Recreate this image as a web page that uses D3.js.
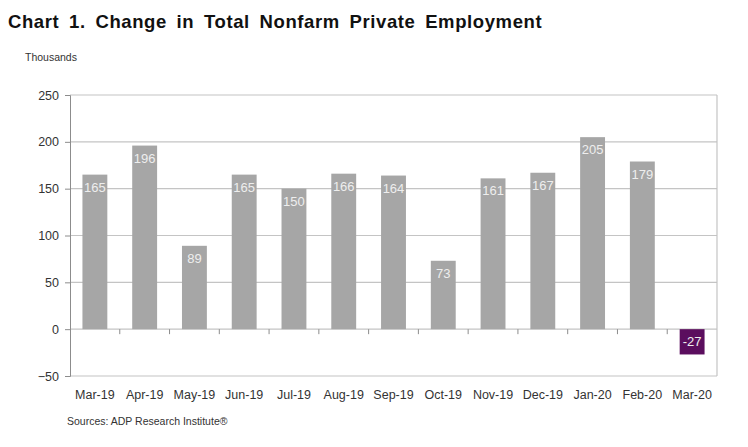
<!DOCTYPE html>
<html>
<head>
<meta charset="utf-8">
<script src="https://cdn.jsdelivr.net/npm/d3@7"></script>
<style>
  body { margin: 0; background: #fff; }
  svg text { font-family: "Liberation Sans", Arial, sans-serif; }
</style>
</head>
<body>
<div id="chart"></div>
<script>
const months = ["Mar-19", "Apr-19", "May-19", "Jun-19", "Jul-19", "Aug-19", "Sep-19",
  "Oct-19", "Nov-19", "Dec-19", "Jan-20", "Feb-20", "Mar-20"];
const changes = [165, 196, 89, 165, 150, 166, 164, 73, 161, 167, 205, 179, -27];
const yTicks = [-50, 0, 50, 100, 150, 200, 250];

const W = 748, H = 447;
const margin = { left: 70, right: 31, top: 95, bottom: 71 };
const width = W - margin.left - margin.right;
const height = H - margin.top - margin.bottom;

const svg = d3.select("#chart").append("svg")
    .attr("width", W)
    .attr("height", H);

svg.append("text")
    .attr("x", 8).attr("y", 28)
    .attr("font-size", 18.5).attr("font-weight", "bold")
    .attr("letter-spacing", 0.6).attr("word-spacing", 4)
    .attr("fill", "#111")
    .text("Chart 1. Change in Total Nonfarm Private Employment");

svg.append("text")
    .attr("x", 25).attr("y", 61)
    .attr("font-size", 10.5).attr("fill", "#333")
    .text("Thousands");

svg.append("text")
    .attr("x", 67).attr("y", 425)
    .attr("font-size", 10.5).attr("fill", "#333")
    .text("Sources: ADP Research Institute®");

const g = svg.append("g").attr("transform", `translate(${margin.left}, ${margin.top})`);

const x = d3.scaleBand().domain(months).range([0, width]).paddingInner(0.5).paddingOuter(0.25);
const y = d3.scaleLinear().domain([-50, 250]).range([height, 0]);

// gridlines
g.append("g").selectAll("line")
  .data(yTicks)
  .join("line")
    .attr("x1", 0).attr("x2", width)
    .attr("y1", d => y(d)).attr("y2", d => y(d))
    .attr("stroke", "#c4c4c4").attr("stroke-width", 1.2);

// right border
g.append("line")
    .attr("x1", width).attr("x2", width)
    .attr("y1", 0).attr("y2", height)
    .attr("stroke", "#c4c4c4").attr("stroke-width", 1.2);

// bars
g.append("g").selectAll("rect")
  .data(changes)
  .join("rect")
    .attr("x", (d, i) => x(months[i]))
    .attr("width", x.bandwidth())
    .attr("y", d => y(Math.max(0, d)))
    .attr("height", d => Math.abs(y(d) - y(0)))
    .attr("fill", d => d < 0 ? "#5b0e5e" : "#a6a6a6");

// value labels
g.append("g").selectAll("text")
  .data(changes)
  .join("text")
    .attr("x", (d, i) => x(months[i]) + x.bandwidth() / 2)
    .attr("y", d => y(Math.max(0, d)) + 17)
    .attr("text-anchor", "middle")
    .attr("font-size", 13)
    .attr("fill", "#eeeeee")
    .text(d => d);

// y axis
const yAxis = g.append("g")
    .call(d3.axisLeft(y).tickValues(yTicks).tickSize(5).tickPadding(6));
yAxis.select(".domain").attr("stroke", "#8c8c8c");
yAxis.selectAll(".tick line").attr("stroke", "#8c8c8c");
yAxis.selectAll(".tick text").attr("font-size", 12.5).attr("fill", "#333")
    .attr("font-family", "Liberation Sans, Arial, sans-serif");

// category ticks along the zero line
g.append("g").selectAll("line")
  .data(months.slice(1))
  .join("line")
    .attr("x1", d => x(d) - x.step() * x.paddingInner() / 2)
    .attr("x2", d => x(d) - x.step() * x.paddingInner() / 2)
    .attr("y1", y(0)).attr("y2", y(0) + 5)
    .attr("stroke", "#8c8c8c");

// x labels
g.append("g").selectAll("text")
  .data(months)
  .join("text")
    .attr("x", d => x(d) + x.bandwidth() / 2)
    .attr("y", height + 23)
    .attr("text-anchor", "middle")
    .attr("font-size", 12.5)
    .attr("fill", "#333")
    .text(d => d);
</script>
</body>
</html>
